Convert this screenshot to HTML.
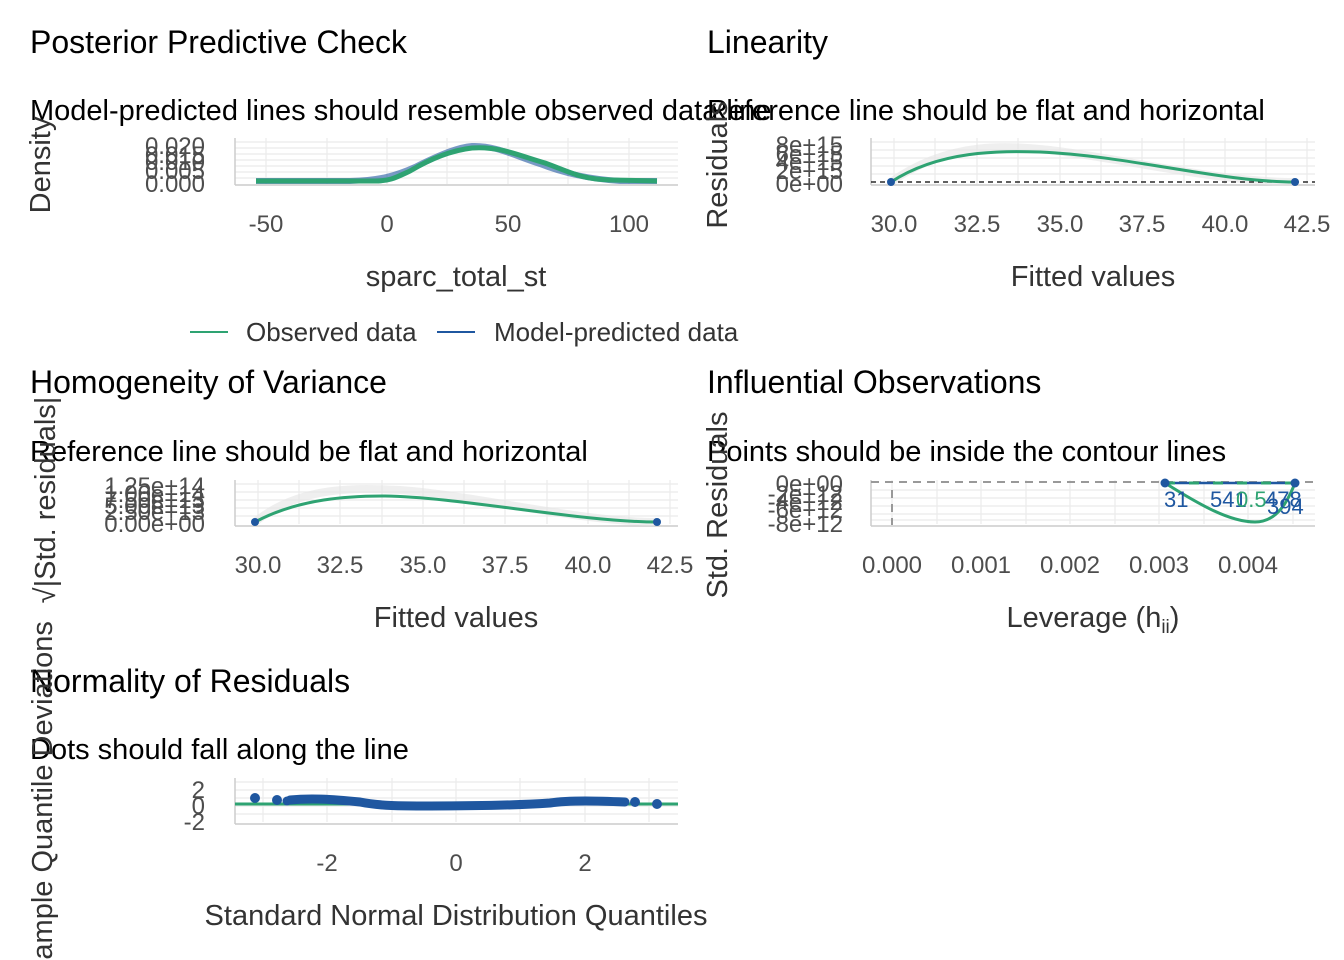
<!DOCTYPE html>
<html><head><meta charset="utf-8"><style>body{margin:0;background:#fff}svg{display:block}</style></head><body>
<svg width="1344" height="960" xmlns="http://www.w3.org/2000/svg" font-family="Liberation Sans, sans-serif">
<!-- Panel 1 -->
<text x="30" y="53" font-size="32">Posterior Predictive Check</text>
<text x="30" y="120" font-size="29">Model-predicted lines should resemble observed data line</text>
<g stroke="#ebebeb" stroke-width="1.2">
<line x1="235" x2="678" y1="142" y2="142"/><line x1="235" x2="678" y1="148" y2="148"/><line x1="235" x2="678" y1="154" y2="154"/><line x1="235" x2="678" y1="160" y2="160"/><line x1="235" x2="678" y1="166" y2="166"/><line x1="235" x2="678" y1="172" y2="172"/><line x1="235" x2="678" y1="178" y2="178"/>
<line x1="266" x2="266" y1="138" y2="184"/><line x1="327" x2="327" y1="138" y2="184"/><line x1="387" x2="387" y1="138" y2="184"/><line x1="447" x2="447" y1="138" y2="184"/><line x1="508" x2="508" y1="138" y2="184"/><line x1="568" x2="568" y1="138" y2="184"/><line x1="629" x2="629" y1="138" y2="184"/>
</g>
<g stroke="#ccc" stroke-width="1.5"><line x1="235" x2="235" y1="138" y2="185"/><line x1="235" x2="678" y1="185" y2="185"/></g>
<path d="M256,181 L350,181 C380,180 395,176 415,167 C445,152 460,147 472,146 C495,145 515,156 540,164 C565,174 590,179 620,181 L657,181" fill="none" stroke="#1f57a0" stroke-width="6" opacity="0.6"/>
<path d="M256,181 L375,181 C390,181 395,178 410,171 C435,156 455,150 472,148 C500,146 520,156 545,163 C570,172 580,179 610,180 L657,181" fill="none" stroke="#2ea372" stroke-width="5"/>
<g font-size="24" fill="#4d4d4d" text-anchor="end"><text x="205" y="154">0.020</text><text x="205" y="163">0.015</text><text x="205" y="170">0.010</text><text x="205" y="179">0.005</text><text x="205" y="192">0.000</text></g>
<g font-size="24" fill="#4d4d4d" text-anchor="middle"><text x="266" y="232">-50</text><text x="387" y="232">0</text><text x="508" y="232">50</text><text x="629" y="232">100</text></g>
<text x="456" y="286" font-size="29" fill="#333" text-anchor="middle">sparc_total_st</text>
<text transform="translate(50,165) rotate(-90)" font-size="29" fill="#333" text-anchor="middle">Density</text>
<line x1="190" x2="228" y1="332" y2="332" stroke="#2ea372" stroke-width="2"/>
<text x="246" y="341" font-size="26" fill="#333">Observed data</text>
<line x1="437" x2="475" y1="332" y2="332" stroke="#1f57a0" stroke-width="2"/>
<text x="494" y="341" font-size="26" fill="#333">Model-predicted data</text>
<!-- Panel 2 -->
<text x="707" y="53" font-size="32">Linearity</text>
<text x="707" y="120" font-size="29">Reference line should be flat and horizontal</text>
<g stroke="#ebebeb" stroke-width="1.2">
<line x1="871" x2="1315" y1="142" y2="142"/><line x1="871" x2="1315" y1="150" y2="150"/><line x1="871" x2="1315" y1="158" y2="158"/><line x1="871" x2="1315" y1="166" y2="166"/><line x1="871" x2="1315" y1="174" y2="174"/>
<line x1="894" x2="894" y1="138" y2="184"/><line x1="935" x2="935" y1="138" y2="184"/><line x1="977" x2="977" y1="138" y2="184"/><line x1="1018" x2="1018" y1="138" y2="184"/><line x1="1060" x2="1060" y1="138" y2="184"/><line x1="1101" x2="1101" y1="138" y2="184"/><line x1="1142" x2="1142" y1="138" y2="184"/><line x1="1184" x2="1184" y1="138" y2="184"/><line x1="1225" x2="1225" y1="138" y2="184"/><line x1="1266" x2="1266" y1="138" y2="184"/><line x1="1307" x2="1307" y1="138" y2="184"/>
</g>
<g stroke="#ccc" stroke-width="1.5"><line x1="871" x2="871" y1="138" y2="185"/><line x1="871" x2="1315" y1="185" y2="185"/></g>
<path d="M891,182 C950,140 1010,146 1050,150 C1130,160 1220,182 1295,182" fill="none" stroke="#e4e4e4" stroke-width="8" opacity="0.6"/>
<line x1="871" x2="1315" y1="182" y2="182" stroke="#000" stroke-width="1.2" stroke-dasharray="5,4"/>
<path d="M891,182 C940,150 1000,151 1040,152 C1130,156 1220,182 1295,182" fill="none" stroke="#2ea372" stroke-width="3"/>
<circle cx="891" cy="182" r="4" fill="#1f57a0"/><circle cx="1295" cy="182" r="4" fill="#1f57a0"/>
<g font-size="24" fill="#4d4d4d" text-anchor="end"><text x="843" y="153">8e+15</text><text x="843" y="162">6e+15</text><text x="843" y="170">4e+15</text><text x="843" y="179">2e+15</text><text x="843" y="192">0e+00</text></g>
<g font-size="24" fill="#4d4d4d" text-anchor="middle"><text x="894" y="232">30.0</text><text x="977" y="232">32.5</text><text x="1060" y="232">35.0</text><text x="1142" y="232">37.5</text><text x="1225" y="232">40.0</text><text x="1307" y="232">42.5</text></g>
<text x="1093" y="286" font-size="29" fill="#333" text-anchor="middle">Fitted values</text>
<text transform="translate(727,165) rotate(-90)" font-size="29" fill="#333" text-anchor="middle">Residuals</text>
<!-- Panel 3 -->
<text x="30" y="393" font-size="32">Homogeneity of Variance</text>
<text x="30" y="461" font-size="29">Reference line should be flat and horizontal</text>
<g stroke="#ebebeb" stroke-width="1.2">
<line x1="235" x2="678" y1="484" y2="484"/><line x1="235" x2="678" y1="492" y2="492"/><line x1="235" x2="678" y1="500" y2="500"/><line x1="235" x2="678" y1="508" y2="508"/><line x1="235" x2="678" y1="516" y2="516"/>
<line x1="258" x2="258" y1="480" y2="524"/><line x1="299" x2="299" y1="480" y2="524"/><line x1="340" x2="340" y1="480" y2="524"/><line x1="382" x2="382" y1="480" y2="524"/><line x1="423" x2="423" y1="480" y2="524"/><line x1="464" x2="464" y1="480" y2="524"/><line x1="505" x2="505" y1="480" y2="524"/><line x1="547" x2="547" y1="480" y2="524"/><line x1="588" x2="588" y1="480" y2="524"/><line x1="629" x2="629" y1="480" y2="524"/><line x1="670" x2="670" y1="480" y2="524"/>
</g>
<g stroke="#ccc" stroke-width="1.5"><line x1="235" x2="235" y1="480" y2="526"/><line x1="235" x2="678" y1="526" y2="526"/></g>
<path d="M255,522 C300,485 360,488 400,490 C480,496 580,522 657,522" fill="none" stroke="#e4e4e4" stroke-width="8" opacity="0.6"/>
<path d="M255,522 C300,498 350,496 385,496 C460,497 580,522 657,522" fill="none" stroke="#2ea372" stroke-width="3"/>
<circle cx="255" cy="522" r="4" fill="#1f57a0"/><circle cx="657" cy="522" r="4" fill="#1f57a0"/>
<g font-size="24" fill="#4d4d4d" text-anchor="end"><text x="205" y="494">1.25e+14</text><text x="205" y="502">1.00e+14</text><text x="205" y="508">7.50e+13</text><text x="205" y="514">5.00e+13</text><text x="205" y="520">2.50e+13</text><text x="205" y="532">0.00e+00</text></g>
<g font-size="24" fill="#4d4d4d" text-anchor="middle"><text x="258" y="573">30.0</text><text x="340" y="573">32.5</text><text x="423" y="573">35.0</text><text x="505" y="573">37.5</text><text x="588" y="573">40.0</text><text x="670" y="573">42.5</text></g>
<text x="456" y="627" font-size="29" fill="#333" text-anchor="middle">Fitted values</text>
<text transform="translate(55,500) rotate(-90)" font-size="29" fill="#333" text-anchor="middle">√|Std. residuals|</text>
<!-- Panel 4 -->
<text x="707" y="393" font-size="32">Influential Observations</text>
<text x="707" y="461" font-size="29">Points should be inside the contour lines</text>
<g stroke="#ebebeb" stroke-width="1.2">
<line x1="871" x2="1315" y1="490" y2="490"/><line x1="871" x2="1315" y1="498" y2="498"/><line x1="871" x2="1315" y1="506" y2="506"/><line x1="871" x2="1315" y1="514" y2="514"/><line x1="871" x2="1315" y1="520" y2="520"/>
<line x1="892" x2="892" y1="480" y2="524"/><line x1="937" x2="937" y1="480" y2="524"/><line x1="981" x2="981" y1="480" y2="524"/><line x1="1026" x2="1026" y1="480" y2="524"/><line x1="1070" x2="1070" y1="480" y2="524"/><line x1="1115" x2="1115" y1="480" y2="524"/><line x1="1159" x2="1159" y1="480" y2="524"/><line x1="1204" x2="1204" y1="480" y2="524"/><line x1="1248" x2="1248" y1="480" y2="524"/><line x1="1293" x2="1293" y1="480" y2="524"/>
</g>
<g stroke="#ccc" stroke-width="1.5"><line x1="871" x2="871" y1="480" y2="526"/><line x1="871" x2="1315" y1="526" y2="526"/></g>
<line x1="871" x2="1315" y1="482" y2="482" stroke="#999" stroke-width="2" stroke-dasharray="8,6"/>
<line x1="892" x2="892" y1="490" y2="525" stroke="#999" stroke-width="2" stroke-dasharray="8,6"/>
<line x1="1165" x2="1295" y1="483" y2="483" stroke="#1f57a0" stroke-width="2.5"/>
<path d="M1165,483 C1200,505 1230,522 1255,522 C1280,522 1290,495 1295,483" fill="none" stroke="#2ea372" stroke-width="3"/>
<line x1="1165" x2="1295" y1="483" y2="483" stroke="#2ea372" stroke-width="3" stroke-dasharray="10,14"/>
<circle cx="1165" cy="483" r="4.5" fill="#1f57a0"/><circle cx="1295" cy="483" r="4.5" fill="#1f57a0"/>
<g font-size="22"><text x="1164" y="507" fill="#1f57a0">31</text><text x="1210" y="507" fill="#1f57a0">541</text><text x="1236" y="507" fill="#2ea372">0.5</text><text x="1265" y="507" fill="#1f57a0">478</text><text x="1267" y="514" fill="#1f57a0">394</text></g>
<g font-size="24" fill="#4d4d4d" text-anchor="end"><text x="843" y="492">0e+00</text><text x="843" y="502">-2e+12</text><text x="843" y="510">-4e+12</text><text x="843" y="518">-6e+12</text><text x="843" y="532">-8e+12</text></g>
<g font-size="24" fill="#4d4d4d" text-anchor="middle"><text x="892" y="573">0.000</text><text x="981" y="573">0.001</text><text x="1070" y="573">0.002</text><text x="1159" y="573">0.003</text><text x="1248" y="573">0.004</text></g>
<text x="1093" y="627" font-size="29" fill="#333" text-anchor="middle">Leverage (h<tspan font-size="19" dy="6">ii</tspan><tspan dy="-6">)</tspan></text>
<text transform="translate(727,505) rotate(-90)" font-size="29" fill="#333" text-anchor="middle">Std. Residuals</text>
<!-- Panel 5 -->
<text x="30" y="692" font-size="32">Normality of Residuals</text>
<text x="30" y="759" font-size="29">Dots should fall along the line</text>
<g stroke="#ebebeb" stroke-width="1.2">
<line x1="235" x2="678" y1="782" y2="782"/><line x1="235" x2="678" y1="790" y2="790"/><line x1="235" x2="678" y1="798" y2="798"/><line x1="235" x2="678" y1="806" y2="806"/><line x1="235" x2="678" y1="814" y2="814"/>
<line x1="263" x2="263" y1="778" y2="822"/><line x1="327" x2="327" y1="778" y2="822"/><line x1="392" x2="392" y1="778" y2="822"/><line x1="456" x2="456" y1="778" y2="822"/><line x1="520" x2="520" y1="778" y2="822"/><line x1="585" x2="585" y1="778" y2="822"/><line x1="649" x2="649" y1="778" y2="822"/>
</g>
<g stroke="#ccc" stroke-width="1.5"><line x1="235" x2="235" y1="778" y2="824"/><line x1="235" x2="678" y1="824" y2="824"/></g>
<line x1="235" x2="678" y1="804" y2="804" stroke="#2ea372" stroke-width="3"/>
<path d="M290,800 C310,798 330,799 360,802 C380,806 400,806 430,806 C480,806 520,805 550,803 C570,800 600,801 625,802" fill="none" stroke="#1f57a0" stroke-width="9" stroke-linecap="round"/>
<g fill="#1f57a0"><circle cx="255" cy="798" r="5"/><circle cx="277" cy="800" r="5"/><circle cx="287" cy="801" r="4.5"/><circle cx="635" cy="802" r="5"/><circle cx="657" cy="804" r="5"/></g>
<g font-size="24" fill="#4d4d4d" text-anchor="end"><text x="205" y="798">2</text><text x="205" y="814">0</text><text x="205" y="830">-2</text></g>
<g font-size="24" fill="#4d4d4d" text-anchor="middle"><text x="327" y="871">-2</text><text x="456" y="871">0</text><text x="585" y="871">2</text></g>
<text x="456" y="925" font-size="29" fill="#333" text-anchor="middle">Standard Normal Distribution Quantiles</text>
<text transform="translate(52,800) rotate(-90)" font-size="29" fill="#333" text-anchor="middle">Sample Quantile Deviations</text>
</svg>
</body></html>
